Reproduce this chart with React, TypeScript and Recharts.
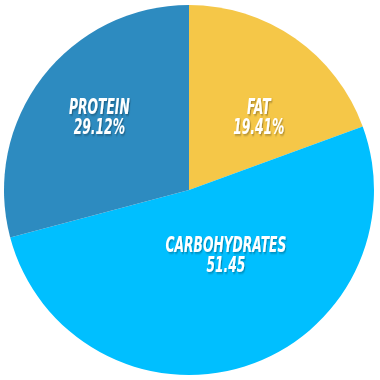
import React from "react";
import { PieChart, Pie, Cell } from "recharts";

const names = ["FAT", "CARBOHYDRATES", "PROTEIN"];
const values = [19.41, 51.45, 29.12];
const valueLabels = ["19.41%", "51.45", "29.12%"];
const colors = ["#F5C748", "#00BFFF", "#2D8BC0"];

// label placement: angle shift (deg) from mid angle, distance as fraction of radius
const labelShift = [-7.6, 13.3, -2.7];
const labelDist = [0.558, 0.39, 0.635];

const data = names.map((name, i) => ({ name, value: values[i] }));

const RAD = Math.PI / 180;

function renderLabel(props: any) {
  const { cx, cy, midAngle, outerRadius, index } = props;
  const a = (midAngle + labelShift[index]) * RAD;
  const r = outerRadius * labelDist[index];
  const x = cx + r * Math.cos(a);
  const y = cy - r * Math.sin(a);
  const style: React.CSSProperties = {
    fontFamily: "'DejaVu Sans', sans-serif",
    fontWeight: 700,
    fontStyle: "italic",
    fontSize: 22,
  };
  return (
    <g transform={`translate(${x},${y}) scale(0.56,1)`} filter="url(#txtShadow)">
      <text x={0} y={0} fill="#ffffff" textAnchor="middle" style={style}>
        <tspan x={0} dy={0}>
          {names[index]}
        </tspan>
        <tspan x={0} dy={20}>
          {valueLabels[index]}
        </tspan>
      </text>
    </g>
  );
}

export default function App() {
  return (
    <div style={{ position: "fixed", left: 0, top: 0, width: 380, height: 380, background: "#fff" }}>
      <PieChart width={380} height={380} margin={{ top: 0, right: 0, bottom: 0, left: 0 }}>
        <defs>
          <filter id="txtShadow" x="-20%" y="-20%" width="140%" height="140%">
            <feDropShadow dx="2" dy="1.5" stdDeviation="1" floodColor="#000" floodOpacity={0.3} />
          </filter>
        </defs>
        <Pie
          data={data}
          dataKey="value"
          nameKey="name"
          cx={189}
          cy={190}
          outerRadius={185}
          startAngle={90}
          endAngle={-270}
          stroke="none"
          labelLine={false}
          label={renderLabel}
          isAnimationActive={false}
        >
          {data.map((d, i) => (
            <Cell key={d.name} fill={colors[i]} />
          ))}
        </Pie>
      </PieChart>
    </div>
  );
}
